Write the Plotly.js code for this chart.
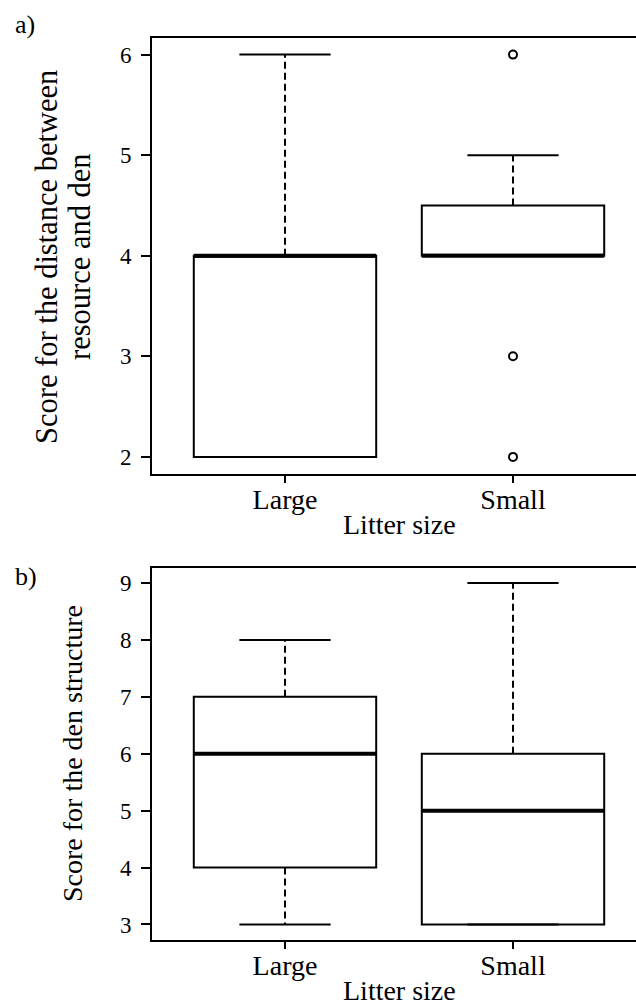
<!DOCTYPE html>
<html>
<head>
<meta charset="utf-8">
<script src="https://cdn.plot.ly/plotly-3.0.1.min.js"></script>
<style>
html, body { margin: 0; padding: 0; overflow: hidden; background: #fff; }
#chart { width: 648px; height: 1007px; }
</style>
</head>
<body>
<div id="chart"></div>
<script>
// ---- data ----
const categories = ['Large', 'Small'];
const xTitle = 'Litter size';

// Panel a: distance between resource and den
const aLower  = [2, 4];
const aQ1     = [2, 4];
const aMedian = [4, 4];
const aQ3     = [4, 4.5];
const aUpper  = [6, 5];
const aOutX   = ['Small', 'Small', 'Small'];
const aOutY   = [6, 3, 2];
const aTicks  = [2, 3, 4, 5, 6];

// Panel b: den structure
const bLower  = [3, 3];
const bQ1     = [4, 3];
const bMedian = [6, 5];
const bQ3     = [7, 6];
const bUpper  = [8, 9];
const bOutX   = [];
const bOutY   = [];
const bTicks  = [3, 4, 5, 6, 7, 8, 9];

// ---- styling constants ----
const FONT = 'Liberation Serif, Times New Roman, serif';
const BOX_W = 0.8;
const CAP_W = 0.4;
const idx = c => categories.indexOf(c);

function panelTraces(lower, q1, med, q3, upper, outX, outY, xa, ya) {
  const pos = categories.map((c, i) => i);
  const traces = [];
  traces.push({
    type: 'box', x: pos, q1: q1, median: med, q3: q3,
    lowerfence: q1, upperfence: q3, width: BOX_W, whiskerwidth: 0,
    boxpoints: false, fillcolor: 'rgba(0,0,0,0)',
    line: {color: '#000', width: 2}, xaxis: xa, yaxis: ya,
    showlegend: false, hoverinfo: 'skip'
  });
  // dashed whiskers
  const wx = [], wy = [];
  pos.forEach((p, i) => {
    wx.push(p, p, null, p, p, null);
    wy.push(q3[i], upper[i], null, q1[i], lower[i], null);
  });
  traces.push({type: 'scatter', mode: 'lines', x: wx, y: wy, xaxis: xa, yaxis: ya,
    line: {color: '#000', width: 2, dash: '7px,4px'}, showlegend: false, hoverinfo: 'skip'});
  // caps
  const cx = [], cy = [];
  pos.forEach((p, i) => {
    cx.push(p - CAP_W / 2, p + CAP_W / 2, null, p - CAP_W / 2, p + CAP_W / 2, null);
    cy.push(upper[i], upper[i], null, lower[i], lower[i], null);
  });
  traces.push({type: 'scatter', mode: 'lines', x: cx, y: cy, xaxis: xa, yaxis: ya,
    line: {color: '#000', width: 2}, showlegend: false, hoverinfo: 'skip'});
  // thick medians
  const mx = [], my = [];
  pos.forEach((p, i) => {
    mx.push(p - BOX_W / 2, p + BOX_W / 2, null);
    my.push(med[i], med[i], null);
  });
  traces.push({type: 'scatter', mode: 'lines', x: mx, y: my, xaxis: xa, yaxis: ya,
    line: {color: '#000', width: 4}, showlegend: false, hoverinfo: 'skip'});
  // outliers
  if (outY.length) {
    traces.push({type: 'scatter', mode: 'markers', x: outX.map(idx), y: outY, xaxis: xa, yaxis: ya,
      marker: {symbol: 'circle-open', size: 8, color: '#000', line: {width: 2}},
      showlegend: false, hoverinfo: 'skip'});
  }
  return traces;
}

const data = [].concat(
  panelTraces(aLower, aQ1, aMedian, aQ3, aUpper, aOutX, aOutY, 'x', 'y'),
  panelTraces(bLower, bQ1, bMedian, bQ3, bUpper, bOutX, bOutY, 'x2', 'y2')
);

const W = 648, H = 1007;
const px = v => v / W;
const py = v => 1 - v / H;

function xAxis(anchor, dom) {
  return {
    domain: dom, anchor: anchor, range: [-0.5833, 1.5833],
    tickmode: 'array', tickvals: categories.map((c, i) => i), ticktext: categories,
    showline: true, mirror: true, linecolor: '#000', linewidth: 2,
    ticks: 'outside', ticklen: 7, tickwidth: 2, tickcolor: '#000',
    ticklabelstandoff: -7,
    showgrid: false, zeroline: false,
    tickfont: {family: FONT, size: 28, color: '#000'}
  };
}
function yAxis(anchor, dom, range, ticks) {
  return {
    domain: dom, anchor: anchor, range: range,
    tickmode: 'array', tickvals: ticks,
    showline: true, mirror: true, linecolor: '#000', linewidth: 2,
    ticks: 'outside', ticklen: 9, tickwidth: 2, tickcolor: '#000',
    ticklabelstandoff: 5,
    showgrid: false, zeroline: false,
    tickfont: {family: FONT, size: 23, color: '#000'}
  };
}

const xDom = [px(152), px(646)];
const ann = (text, x, y, size, opts) => Object.assign({
  text: text, x: x, y: y, xref: 'paper', yref: 'paper', showarrow: false,
  xanchor: 'center', yanchor: 'middle', font: {family: FONT, size: size, color: '#000'}
}, opts || {});

const layout = {
  width: W, height: H,
  margin: {l: 0, r: 0, t: 0, b: 0},
  paper_bgcolor: '#fff', plot_bgcolor: '#fff',
  showlegend: false,
  xaxis: xAxis('y', xDom),
  yaxis: yAxis('x', [py(473.5), py(38)], [1.835, 6.165], aTicks),
  xaxis2: xAxis('y2', xDom),
  yaxis2: yAxis('x2', [py(939.5), py(568)], [2.736, 9.264], bTicks),
  annotations: [
    ann('a)', px(13), py(24), 26, {xanchor: 'left'}),
    ann('b)', px(13), py(576), 26, {xanchor: 'left'}),
    ann('Score for the distance between', px(47), py(257), 30.5, {textangle: -90}),
    ann('resource and den', px(80), py(257), 30.5, {textangle: -90}),
    ann('Score for the den structure', px(72), py(754), 28, {textangle: -90}),
    ann(xTitle, px(399), py(524), 28),
    ann(xTitle, px(399), py(990), 28)
  ]
};

Plotly.newPlot('chart', data, layout, {displayModeBar: false, staticPlot: true});
</script>
</body>
</html>
